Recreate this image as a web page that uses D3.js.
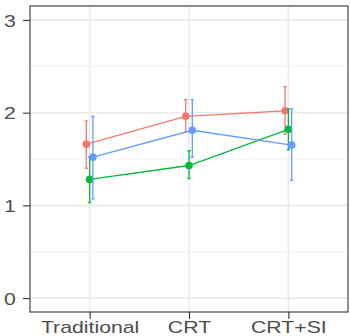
<!DOCTYPE html>
<html>
<head>
<meta charset="utf-8">
<script src="https://cdn.jsdelivr.net/npm/d3@7"></script>
<style>
  body { margin: 0; background: #fff; }
  svg { display: block; }
</style>
</head>
<body>
<div id="container"></div>
<script>
/* CONSTANTS AND GLOBALS */
const width = 350,
      height = 336,
      margin = {top: 6, bottom: 24, left: 30, right: 2};

/* DATA */
const categories = ["Traditional", "CRT", "CRT+SI"];
const groups = ["g1", "g2", "g3"];
const groupColors = ["#F8766D", "#00BA38", "#619CFF"];

const meanG1 = [1.66, 1.96, 2.02];
const lowG1  = [1.40, 1.79, 1.77];
const highG1 = [1.91, 2.14, 2.28];

const meanG2 = [1.28, 1.43, 1.82];
const lowG2  = [1.03, 1.29, 1.60];
const highG2 = [1.52, 1.59, 2.04];

const meanG3 = [1.52, 1.81, 1.65];
const lowG3  = [1.07, 1.52, 1.27];
const highG3 = [1.96, 2.14, 2.04];

const yTicks = [0, 1, 2, 3];
const yMinor = [0.5, 1.5, 2.5];

const series = [
  {group: "g1", mean: meanG1, low: lowG1, high: highG1},
  {group: "g2", mean: meanG2, low: lowG2, high: highG2},
  {group: "g3", mean: meanG3, low: lowG3, high: highG3}
];

/* SCALES */
const xScale = d3.scalePoint()
                 .domain(categories)
                 .range([margin.left, width - margin.right])
                 .padding(0.6);

const dodge = d3.scalePoint()
                .domain(groups)
                .range([-3.3, 3.3]);

const yScale = d3.scaleLinear()
                 .domain([-0.15, 3.15])
                 .range([height - margin.bottom, margin.top]);

const colorScale = d3.scaleOrdinal()
                     .domain(groups)
                     .range(groupColors);

/* HTML ELEMENTS */
const svg = d3.select("#container")
              .append("svg")
              .attr("width", width)
              .attr("height", height);

// grid
svg.append("g")
   .selectAll("line")
   .data(yMinor)
   .join("line")
   .attr("x1", margin.left).attr("x2", width - margin.right)
   .attr("y1", d => yScale(d)).attr("y2", d => yScale(d))
   .attr("stroke", "#F2F2F2").attr("stroke-width", 1);

svg.append("g")
   .selectAll("line")
   .data(yTicks)
   .join("line")
   .attr("x1", margin.left).attr("x2", width - margin.right)
   .attr("y1", d => yScale(d)).attr("y2", d => yScale(d))
   .attr("stroke", "#EBEBEB").attr("stroke-width", 1.6);

svg.append("g")
   .selectAll("line")
   .data(categories)
   .join("line")
   .attr("x1", d => xScale(d)).attr("x2", d => xScale(d))
   .attr("y1", margin.top).attr("y2", height - margin.bottom)
   .attr("stroke", "#EBEBEB").attr("stroke-width", 1.6);

// axes
const xAxis = d3.axisBottom(xScale).tickSize(7);
const yAxis = d3.axisLeft(yScale).tickValues(yTicks).tickFormat(d3.format("d")).tickSize(7);

const gx = svg.append("g")
   .attr("transform", `translate(0, ${height - margin.bottom})`)
   .call(xAxis);

const gy = svg.append("g")
   .attr("transform", `translate(${margin.left}, 0)`)
   .call(yAxis);

[gx, gy].forEach(g => {
  g.select(".domain").remove();
  g.selectAll(".tick line").attr("stroke", "#333333").attr("stroke-width", 1.1);
  g.selectAll(".tick text")
   .attr("fill", "#4D4D4D")
   .style("font-family", "'Liberation Sans', Arial, sans-serif")
   .style("font-size", "17px");
});

gx.selectAll(".tick text")
  .attr("y", 21).attr("dy", 0)
  .attr("transform", "scale(1.25,1)");

gy.selectAll(".tick text")
  .attr("x", -11.4).attr("dy", "0.36em")
  .attr("transform", "scale(1.25,1)");

// panel border
svg.append("rect")
   .attr("x", margin.left).attr("y", margin.top)
   .attr("width", width - margin.right - margin.left)
   .attr("height", height - margin.bottom - margin.top)
   .attr("fill", "none")
   .attr("stroke", "#333333")
   .attr("stroke-width", 1.1);

// marks
const line = d3.line()
               .x(d => xScale(d.cat) + dodge(d.group))
               .y(d => yScale(d.mean));

series.forEach(s => {
  const pts = categories.map((c, i) => ({
    cat: c, group: s.group, mean: s.mean[i], low: s.low[i], high: s.high[i]
  }));
  const col = colorScale(s.group);
  const g = svg.append("g");

  g.append("path")
   .datum(pts)
   .attr("d", line)
   .attr("fill", "none")
   .attr("stroke", col)
   .attr("stroke-width", 1.3);

  const eb = g.selectAll("g.eb")
              .data(pts)
              .join("g")
              .attr("class", "eb");

  eb.append("line")
    .attr("x1", d => xScale(d.cat) + dodge(d.group))
    .attr("x2", d => xScale(d.cat) + dodge(d.group))
    .attr("y1", d => yScale(d.low))
    .attr("y2", d => yScale(d.high))
    .attr("stroke", col).attr("stroke-width", 1.3);

  ["low", "high"].forEach(k => {
    eb.append("line")
      .attr("x1", d => xScale(d.cat) + dodge(d.group) - 1.7)
      .attr("x2", d => xScale(d.cat) + dodge(d.group) + 1.7)
      .attr("y1", d => yScale(d[k]))
      .attr("y2", d => yScale(d[k]))
      .attr("stroke", col).attr("stroke-width", 1.3);
  });

  g.selectAll("circle")
   .data(pts)
   .join("circle")
   .attr("cx", d => xScale(d.cat) + dodge(d.group))
   .attr("cy", d => yScale(d.mean))
   .attr("r", 3.8)
   .attr("fill", col);
});
</script>
</body>
</html>
